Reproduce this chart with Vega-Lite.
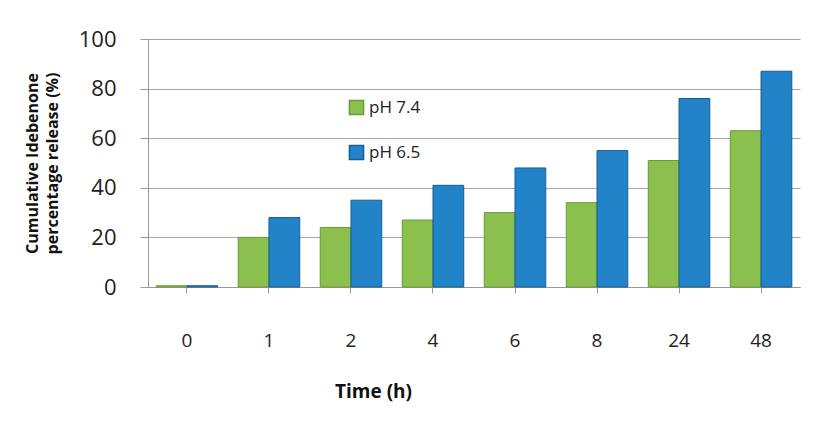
{
  "$schema": "https://vega.github.io/schema/vega-lite/v6.json",
  "width": 652,
  "height": 248,
  "padding": {"top": 28, "left": 24, "right": 10, "bottom": 5},
  "background": "white",
  "data": {
    "values": [
      {"time": "0", "ph": "pH 7.4", "release": 0.5},
      {"time": "1", "ph": "pH 7.4", "release": 20},
      {"time": "2", "ph": "pH 7.4", "release": 24},
      {"time": "4", "ph": "pH 7.4", "release": 27},
      {"time": "6", "ph": "pH 7.4", "release": 30},
      {"time": "8", "ph": "pH 7.4", "release": 34},
      {"time": "24", "ph": "pH 7.4", "release": 51},
      {"time": "48", "ph": "pH 7.4", "release": 63},
      {"time": "0", "ph": "pH 6.5", "release": 0.5},
      {"time": "1", "ph": "pH 6.5", "release": 28},
      {"time": "2", "ph": "pH 6.5", "release": 35},
      {"time": "4", "ph": "pH 6.5", "release": 41},
      {"time": "6", "ph": "pH 6.5", "release": 48},
      {"time": "8", "ph": "pH 6.5", "release": 55},
      {"time": "24", "ph": "pH 6.5", "release": 76},
      {"time": "48", "ph": "pH 6.5", "release": 87}
    ]
  },
  "mark": {"type": "bar", "strokeWidth": 1},
  "encoding": {
    "x": {
      "field": "time",
      "type": "ordinal",
      "sort": ["0", "1", "2", "4", "6", "8", "24", "48"],
      "scale": {"paddingInner": 0.25, "paddingOuter": 0.1},
      "title": "Time (h)",
      "axis": {
        "labelAngle": 0,
        "labelFont": "Open Sans",
        "labelFontSize": 19,
        "labelColor": "#222222",
        "labelPadding": 38,
        "tickSize": 6,
        "tickColor": "#999999",
        "domainColor": "#999999",
        "titleFont": "Open Sans",
        "titleFontSize": 19,
        "titleFontWeight": "bold",
        "titleColor": "#111111",
        "titlePadding": 32,
        "titleX": 225,
        "titleAlign": "center"
      }
    },
    "xOffset": {"field": "ph", "sort": ["pH 7.4", "pH 6.5"]},
    "y": {
      "field": "release",
      "type": "quantitative",
      "scale": {"domain": [0, 100]},
      "title": ["Cumulative Idebenone", "percentage release (%)"],
      "axis": {
        "values": [0, 20, 40, 60, 80, 100],
        "labelFont": "Open Sans",
        "labelFontSize": 22,
        "labelColor": "#222222",
        "labelPadding": 24,
        "tickSize": 8,
        "tickColor": "#999999",
        "domainColor": "#999999",
        "gridColor": "#A6A6A6",
        "gridWidth": 1.2,
        "titleFont": "Open Sans",
        "titleFontSize": 16,
        "titleFontWeight": "bold",
        "titleColor": "#111111",
        "titlePadding": 18,
        "titleLineHeight": 20
      }
    },
    "color": {
      "field": "ph",
      "type": "nominal",
      "sort": ["pH 7.4", "pH 6.5"],
      "scale": {"domain": ["pH 7.4", "pH 6.5"], "range": ["#8CC04E", "#2383C8"]},
      "legend": {
        "title": null,
        "orient": "none",
        "legendX": 200,
        "legendY": 60,
        "symbolType": "square",
        "symbolSize": 200,
        "rowPadding": 24,
        "labelFont": "Open Sans",
        "labelFontSize": 17,
        "labelColor": "#222222"
      }
    },
    "stroke": {
      "field": "ph",
      "type": "nominal",
      "scale": {"domain": ["pH 7.4", "pH 6.5"], "range": ["#6A9A35", "#175E91"]},
      "legend": null
    }
  },
  "config": {"view": {"stroke": null}}
}
